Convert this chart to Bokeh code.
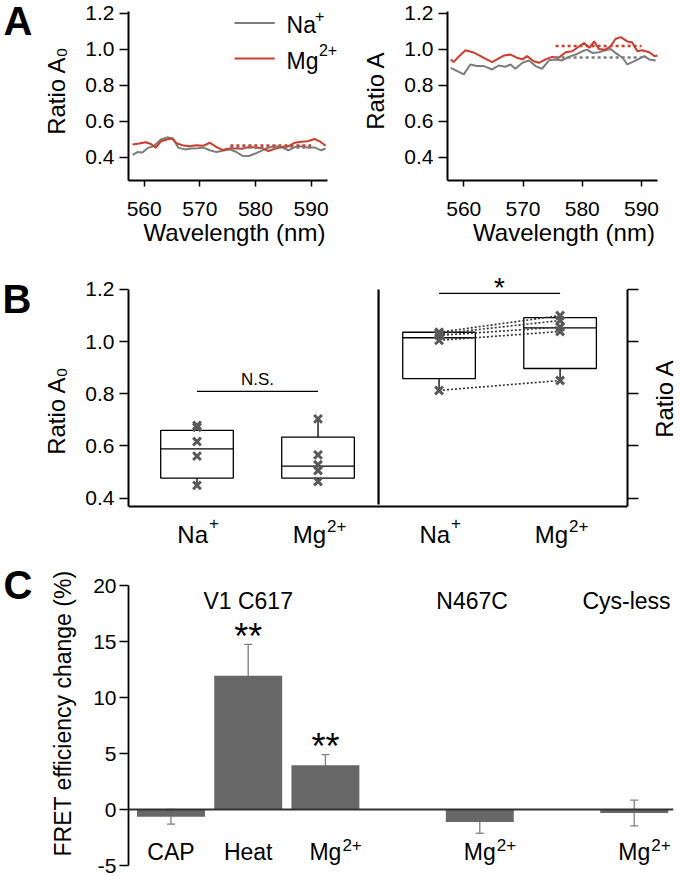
import math
from bokeh.plotting import figure
from bokeh.layouts import column, row
from bokeh.models import (Range1d, Label, Span, Whisker, TeeHead, FixedTicker,
                          ColumnDataSource, LinearAxis, Arrow, NumeralTickFormatter)
from bokeh.embed import file_html
from bokeh.resources import INLINE

FONT = "Liberation Sans"

# ---------------- Panel A data (spectra) ----------------
wl_a0_na = [557.9, 558.8, 559.7, 560.6, 561.8, 563.0, 564.1, 565.2, 566.1, 567.3, 568.5,
            569.7, 570.6, 571.8, 573.0, 574.1, 575.3, 576.5, 577.6, 578.8, 580.0, 581.2,
            582.3, 583.5, 584.7, 585.9, 587.1, 588.2, 589.4, 590.6, 591.8, 592.6]
a0_na = [0.415, 0.430, 0.428, 0.452, 0.465, 0.500, 0.512, 0.505, 0.455, 0.445, 0.450,
         0.452, 0.455, 0.440, 0.430, 0.438, 0.445, 0.432, 0.410, 0.408, 0.422, 0.440,
         0.455, 0.462, 0.458, 0.440, 0.458, 0.463, 0.455, 0.456, 0.440, 0.450]
wl_a0_mg = [557.9, 559.1, 560.3, 561.2, 562.1, 563.0, 564.1, 565.0, 565.9, 567.1, 568.2,
            569.4, 570.6, 571.8, 573.0, 574.1, 575.3, 576.5, 577.6, 578.8, 580.0, 581.2,
            582.3, 583.5, 584.7, 585.9, 587.1, 588.2, 589.4, 590.6, 591.8, 592.6]
a0_mg = [0.472, 0.478, 0.485, 0.475, 0.455, 0.490, 0.500, 0.505, 0.478, 0.466, 0.462,
         0.468, 0.465, 0.482, 0.458, 0.442, 0.450, 0.450, 0.448, 0.458, 0.456, 0.452,
         0.436, 0.448, 0.458, 0.462, 0.482, 0.488, 0.490, 0.503, 0.485, 0.465]

wl_a_na = [557.8, 558.9, 560.0, 561.1, 562.2, 563.4, 564.8, 565.9, 567.0, 567.9, 568.7,
           569.9, 571.0, 572.1, 573.2, 574.4, 575.5, 576.6, 577.7, 578.9, 580.0, 580.8,
           581.7, 582.8, 583.9, 584.8, 585.6, 586.8, 587.6, 588.8, 589.9, 590.5, 591.3, 592.4]
a_na = [0.898, 0.880, 0.862, 0.917, 0.908, 0.908, 0.889, 0.911, 0.904, 0.917, 0.893,
        0.926, 0.939, 0.908, 0.893, 0.940, 0.945, 0.939, 0.959, 0.972, 0.990, 0.999,
        0.981, 0.985, 0.996, 1.003, 0.981, 0.954, 0.917, 0.935, 0.954, 0.963, 0.945, 0.939]
wl_a_mg = [557.8, 558.3, 559.2, 560.3, 561.5, 562.6, 563.7, 564.8, 565.6, 566.8, 567.9,
           569.0, 569.9, 570.7, 571.8, 572.7, 573.8, 574.9, 576.0, 577.2, 578.3, 579.5,
           580.3, 581.2, 582.0, 582.8, 583.9, 584.8, 585.6, 586.5, 587.6, 588.4, 589.3,
           590.1, 591.3, 592.2, 592.7]
a_mg = [0.945, 0.930, 0.963, 0.996, 0.985, 0.967, 0.948, 0.930, 0.945, 0.967, 0.972,
        0.954, 0.945, 0.963, 0.935, 0.926, 0.945, 0.959, 0.954, 0.985, 0.990, 1.018,
        1.036, 1.009, 1.045, 1.003, 0.999, 1.018, 1.058, 1.069, 1.045, 1.040, 0.990,
        0.996, 0.985, 0.963, 0.967]

mean_wl = [575.5, 590.0]
a0_mean = {"na": 0.456, "mg": 0.466}
a_mean = {"na": 0.955, "mg": 1.020}

wl_ticks = [560, 570, 580, 590]
ratio_ticks = [0.4, 0.6, 0.8, 1.0, 1.2]

# ---------------- Panel B data (box plots) ----------------
b_pos = [0, 1, 2, 3]
b_main = ["Na", "Mg", "Na", "Mg"]
b_sup = ["+", "2+", "+", "2+"]
b_points = [[0.679, 0.672, 0.617, 0.561, 0.449],
            [0.704, 0.566, 0.528, 0.506, 0.464],
            [1.036, 1.030, 1.024, 1.005, 0.813],
            [1.100, 1.081, 1.056, 1.039, 0.851]]
b_q1 = [0.477, 0.477, 0.858, 0.897]
b_med = [0.589, 0.523, 1.015, 1.053]
b_q3 = [0.660, 0.634, 1.036, 1.092]
b_sig = [("N.S.", 0, 1, 0.809), ("*", 2, 3, 1.185)]
b_floor = 0.368

# ---------------- Panel C data (bars) ----------------
c_pos = [0, 1, 2, 4, 6]
c_main = ["CAP", "Heat", "Mg", "Mg", "Mg"]
c_sup = ["", "", "2+", "2+", "2+"]
c_vals = [-0.65, 11.95, 3.95, -1.12, -0.32]
c_err = [0.65, 2.80, 0.95, 1.00, 1.15]
c_groups = ["V1 C617", "N467C", "Cys-less"]
c_group_pos = [1.0, 3.9, 5.9]
c_star_pos = [1, 2]
c_ticks = [-5, 0, 5, 10, 15, 20]
c_tick_labels = ["-5", "0", "5", "10", "15", "20"]

GRAY = "#7d7d7d"
RED = "#cc3d2c"
TICK_FONT = "21px"


def make_fig(origin, size, frame, xr, yr):
    """origin/frame in page pixels; returns fig and page->data converters."""
    ox, oy = origin
    w, h = size
    L, R, T, B = frame
    p = figure(width=w, height=h, x_range=Range1d(*xr), y_range=Range1d(*yr),
               output_backend="svg", toolbar_location=None, tools="",
               x_axis_location=None, y_axis_location=None,
               min_border_left=L - ox, min_border_right=ox + w - R,
               min_border_top=T - oy, min_border_bottom=oy + h - B)
    p.outline_line_color = None
    p.grid.visible = False
    p.background_fill_color = "white"
    p.border_fill_color = "white"

    def fx(px):
        return xr[0] + (px - L) / (R - L) * (xr[1] - xr[0])

    def fy(py):
        return yr[1] - (py - T) / (B - T) * (yr[1] - yr[0])
    return p, fx, fy


def strip(origin, size):
    ox, oy = origin
    w, h = size
    return make_fig(origin, size, (ox, ox + w, oy, oy + h), (0, 1), (0, 1))


def style_axis(ax, ticks, label="", tick_out=9, lab_size=TICK_FONT, axl_size="24px",
               standoff=5, label_standoff=12, lw=2, bounds=None):
    ax.ticker = FixedTicker(ticks=ticks)
    ax.axis_line_width = lw
    ax.axis_line_color = "black"
    ax.major_tick_line_width = 1.5
    ax.major_tick_line_color = "black"
    ax.major_tick_in = 0
    ax.major_tick_out = tick_out
    ax.minor_tick_line_color = None
    ax.major_label_text_font = FONT
    ax.major_label_text_font_size = lab_size
    ax.major_label_text_color = "black"
    ax.major_label_standoff = standoff
    ax.axis_label = label
    ax.axis_label_text_font = FONT
    ax.axis_label_text_font_size = axl_size
    ax.axis_label_text_font_style = "normal"
    ax.axis_label_text_color = "black"
    ax.axis_label_standoff = label_standoff
    if bounds is not None:
        ax.bounds = bounds


def lab(p, x, y, text, size, align="left", base="alphabetic", style="normal", angle=0.0, xoff=0):
    p.add_layout(Label(x=x, y=y, text=text, text_font=FONT, text_font_size=size,
                       text_align=align, text_baseline=base, text_font_style=style,
                       text_color="black", angle=angle, x_offset=xoff))


def bl(py, size):
    """baseline (page px) corrected for the renderer's baseline placement"""
    return py - 0.3 * size


def letter(origin, size, text, px, py):
    p, fx, fy = strip(origin, size)
    lab(p, fx(px), fy(py), text, "40px", style="bold")
    return p


# ---------------- Panel A ----------------
YR_A = (0.2722, 1.2722)


def panel_a(origin, width, frame, xr, xbounds, wl_na, na, wl_mg, mg, means, ylabel):
    p, fx, fy = make_fig(origin, (width, 270), frame, xr, YR_A)
    xa = LinearAxis()
    style_axis(xa, wl_ticks, "Wavelength (nm)", tick_out=6, standoff=15,
               label_standoff=0, bounds=xbounds)
    p.add_layout(xa, "below")
    ya = LinearAxis(formatter=NumeralTickFormatter(format="0.0"))
    style_axis(ya, ratio_ticks, ylabel, tick_out=9, standoff=5, label_standoff=12,
               bounds=(YR_A[0], 1.2111))
    p.add_layout(ya, "left")
    p.line(wl_na, na, line_color=GRAY, line_width=2)
    p.line(wl_mg, mg, line_color=RED, line_width=2)
    p.line(mean_wl, [means["na"]] * 2, line_color=GRAY, line_width=2.5, line_dash="3 3")
    p.line(mean_wl, [means["mg"]] * 2, line_color=RED, line_width=2.5, line_dash="3 3")
    return p, fx, fy


letA = letter((0, 0), (40, 270), "A", 3, 30)
pA1, fx, fy = panel_a((40, 0), 300, (124, 340, 0, 180), (557.18, 595.29), (557.18, 593.0),
                      wl_a0_na, a0_na, wl_a0_mg, a0_mg, a0_mean, "Ratio A\u2080")
# legend
for py, col, main, sup, sup_base, sup_x in [(22.5, GRAY, "Na", "+", 20, 314),
                                            (58, RED, "Mg", "2+", 54, 318)]:
    pA1.add_layout(Arrow(end=None, x_start=fx(232), x_end=fx(273), y_start=fy(py), y_end=fy(py),
                         line_color=col, line_width=2))
    lab(pA1, fx(285), fy(bl(py + 9, 23)), main, "23px")
    lab(pA1, fx(sup_x), fy(bl(sup_base, 16)), sup, "16px")

pA2, fx2, fy2 = panel_a((340, 0), 340, (447, 680, 0, 180), (557.25, 596.58), (557.25, 592.7),
                        wl_a_na, a_na, wl_a_mg, a_mg, a_mean, "Ratio A")

# ---------------- Panel B ----------------
letB = letter((0, 270), (40, 280), "B", 2, 298)
yrB = (0.1993, 1.2728)
pB, fxb, fyb = make_fig((40, 270), (602, 280), (124, 627, 270, 550), (-0.566, 3.557), yrB)
ya = LinearAxis(formatter=NumeralTickFormatter(format="0.0"))
style_axis(ya, ratio_ticks, "Ratio A\u2080", standoff=5, label_standoff=12, bounds=(b_floor, 1.2))
pB.add_layout(ya, "left")
yr_ax = LinearAxis()
style_axis(yr_ax, ratio_ticks, "", tick_out=11, standoff=0, label_standoff=0, bounds=(b_floor, 1.2))
yr_ax.major_label_overrides = {t: "" for t in ratio_ticks}
pB.add_layout(yr_ax, "right")
pB.add_layout(Span(location=b_floor, dimension="width", line_color="black", line_width=2))

hw = 0.3
for i, c in enumerate(b_pos):
    pts = b_points[i]
    pB.quad(left=[c - hw], right=[c + hw], bottom=[b_q1[i]], top=[b_q3[i]],
            fill_color="white", line_color="black", line_width=1.3)
    pB.segment(x0=[c - hw], x1=[c + hw], y0=[b_med[i]], y1=[b_med[i]], line_color="black", line_width=1.3)
    if max(pts) > b_q3[i]:
        pB.segment(x0=[c], x1=[c], y0=[b_q3[i]], y1=[max(pts)], line_color="black", line_width=1.3)
    if min(pts) < b_q1[i]:
        pB.segment(x0=[c], x1=[c], y0=[b_q1[i]], y1=[min(pts)], line_color="black", line_width=1.3)

# paired dotted lines (Ratio A)
na_s = sorted(b_points[2])
mg_s = sorted(b_points[3])
pB.segment(x0=[b_pos[2]] * 5, x1=[b_pos[3]] * 5, y0=na_s, y1=mg_s,
           line_color="#333333", line_width=1.6, line_dash="2 2")
for i, c in enumerate(b_pos):
    pB.scatter([c] * len(b_points[i]), b_points[i], marker="x", size=11,
               line_color="#595959", line_width=3)

# divider between the two halves
pB.segment(x0=[1.5], x1=[1.5], y0=[0.376], y1=[1.2], line_color="black", line_width=2.2)

# significance
for text, a, b, yv in b_sig:
    pB.segment(x0=[a], x1=[b], y0=[yv], y1=[yv], line_color="black", line_width=1.2)
lab(pB, (b_sig[0][1] + b_sig[0][2]) / 2, fyb(379), b_sig[0][0], "17px", align="center")
lab(pB, (b_sig[1][1] + b_sig[1][2]) / 2, fyb(287), b_sig[1][0], "28px", align="center")

# category labels
for c, m, s in zip(b_pos, b_main, b_sup):
    shift = 11 if m == "Na" else 8
    lab(pB, c, fyb(bl(541, 24)), m, "24px", align="right", xoff=shift)
    lab(pB, c, fyb(bl(528 if m == "Na" else 531, 17)), s, "17px", align="left", xoff=shift + 1)

rB, fxr, fyr = strip((642, 270), (38, 280))
lab(rB, fxr(664), fyr(398), "Ratio A", "24px", align="center", base="middle", angle=math.pi / 2)

# ---------------- Panel C ----------------
letC = letter((0, 550), (40, 326), "C", 3, 584)
yrC = (-5.982, 23.125)
pC, fxc, fyc = make_fig((40, 550), (640, 326), (128, 673, 550, 876), (-0.5505, 6.509), yrC)
yc = LinearAxis()
style_axis(yc, c_ticks, "FRET efficiency change (%)", axl_size="23px", standoff=3,
           label_standoff=14, lw=1.8, bounds=(-5, 20))
yc.major_label_overrides = {t: l for t, l in zip(c_ticks, c_tick_labels)}
pC.add_layout(yc, "left")

src = ColumnDataSource(dict(x=c_pos, top=c_vals,
                            upper=[v + e for v, e in zip(c_vals, c_err)],
                            lower=[v - e for v, e in zip(c_vals, c_err)]))
wh = Whisker(source=src, base="x", upper="upper", lower="lower", dimension="height",
             line_color="#808080", line_width=1.3, level="underlay",
             upper_head=TeeHead(size=8, line_color="#808080", line_width=1.3),
             lower_head=TeeHead(size=8, line_color="#808080", line_width=1.3))
pC.add_layout(wh)
pC.vbar(x="x", top="top", bottom=0, width=0.88, source=src, fill_color="#676767", line_color=None)
pC.add_layout(Span(location=0, dimension="width", line_color="#333333", line_width=2))

for x, t in zip(c_group_pos, c_groups):
    lab(pC, x, fyc(bl(607, 23)), t, "23px", align="center")
for x in c_star_pos:
    i = c_pos.index(x)
    top = c_vals[i] + c_err[i]
    lab(pC, x, top + 0.7, "**", "36px", align="center")
for x, m, s in zip(c_pos, c_main, c_sup):
    lab(pC, x, fyc(bl(858, 23)), m, "23px", align="center")
    if s:
        lab(pC, x, fyc(bl(850, 17)), s, "17px", align="left", xoff=17)

layout = column(row(letA, pA1, pA2), row(letB, pB, rB), row(letC, pC))
open("out.html", "w").write(file_html(layout, INLINE, "figure"))
